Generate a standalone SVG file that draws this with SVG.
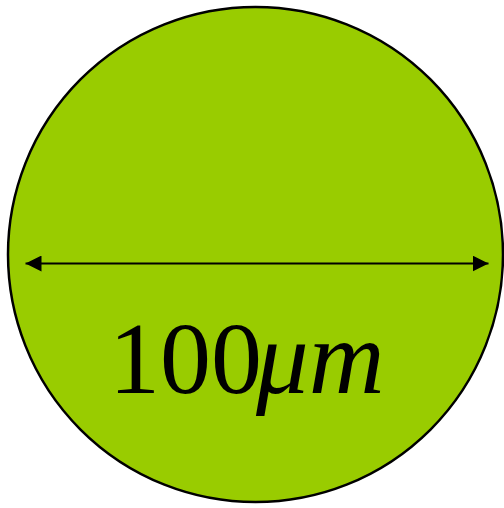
<svg xmlns="http://www.w3.org/2000/svg" width="504" height="508" viewBox="0 0 504 508">
  <defs>
    <marker id="ah" viewBox="0 0 16 16" refX="16" refY="8" markerWidth="16" markerHeight="16" markerUnits="userSpaceOnUse" orient="auto-start-reverse">
      <path d="M0,0 L16,8 L0,16 Z" fill="#000"/>
    </marker>
    <style>
      .cell { fill: #99CC00; stroke: #000; stroke-width: 2.5; }
      .dim { stroke: #000; stroke-width: 2; fill: none; }
      .lbl { font-family: "Liberation Serif", "Times New Roman", serif; font-size: 102px; fill: #000; }
    </style>
  </defs>
  <g id="cell">
    <circle class="cell" cx="255.5" cy="254.5" r="247.5"/>
  </g>
  <g id="connectors">
    <line class="dim" x1="25.5" y1="263.5" x2="488.5" y2="263.5" marker-start="url(#ah)" marker-end="url(#ah)"/>
  </g>
  <g id="label">
    <text class="lbl" x="109" y="393">100<tspan x="256" font-size="105" font-style="italic">μm</tspan></text>
  </g>
</svg>
